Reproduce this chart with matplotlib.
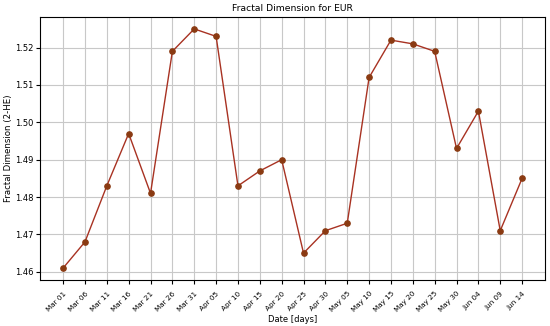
import matplotlib
matplotlib.use("Agg")
import matplotlib.pyplot as plt
import matplotlib.dates as mdates
import pandas as pd

# Fractal dimension (2 - Hurst exponent), one value every 5 days
dates = pd.date_range("2024-03-01", periods=22, freq="5D")
fd_values = [1.461, 1.468, 1.483, 1.497, 1.481, 1.519, 1.525, 1.523,
             1.483, 1.487, 1.490, 1.465, 1.471, 1.473, 1.512, 1.522,
             1.521, 1.519, 1.493, 1.503, 1.471, 1.485]

fig, ax = plt.subplots(figsize=(5.5, 3.26), dpi=100)

ax.plot(dates, fd_values, '-o', color='#a83222', linewidth=1.0,
        markersize=3.8, markerfacecolor='#8a3a12', markeredgecolor='#8a3a12')

ax.set_title("Fractal Dimension for EUR", fontsize=6.7, pad=4)
ax.set_xlabel("Date [days]", fontsize=6, labelpad=1)
ax.set_ylabel("Fractal Dimension (2-HE)", fontsize=6.2, labelpad=1.5)
ax.set_xticks(dates)
ax.xaxis.set_major_formatter(mdates.DateFormatter("%b %d"))
ax.tick_params(axis='x', labelsize=5.2, length=3, pad=4.5)
ax.tick_params(axis='y', labelsize=6, length=3, pad=2)
plt.setp(ax.get_xticklabels(), rotation=45, ha='right', rotation_mode='anchor')
ax.grid(True, color='#c8c8c8', linewidth=0.8)
for s in ax.spines.values():
    s.set_linewidth(0.8)

fig.subplots_adjust(left=0.073, right=0.991, top=0.948, bottom=0.141)
fig.savefig("out.png", dpi=100)
